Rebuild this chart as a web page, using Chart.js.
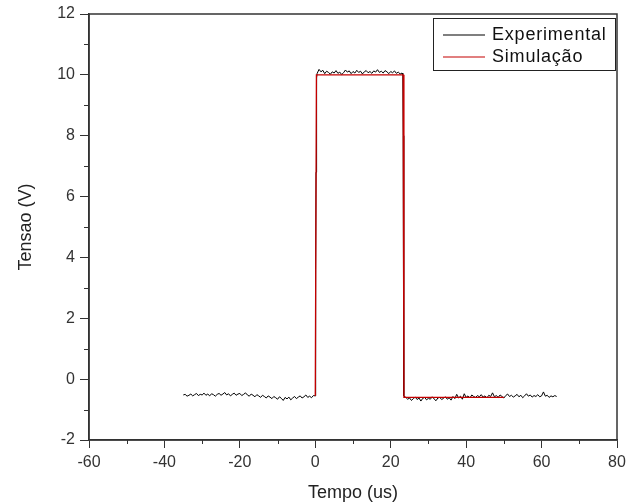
<!DOCTYPE html>
<html>
<head>
<meta charset="utf-8">
<script src="https://cdn.jsdelivr.net/npm/chart.js@4/dist/chart.umd.min.js"></script>
<style>
  html, body { margin: 0; padding: 0; background: #fff; }
  #wrap { width: 627px; height: 504px; }
</style>
</head>
<body>
<div id="wrap"><canvas id="chart" width="627" height="504"></canvas></div>
<script>
// measured pulse (us, V)
let expTime = [
  -35, -34.5, -34, -33.5, -33, -32.5, -32, -31.5, -31, -30.5,
  -30, -29.5, -29, -28.5, -28, -27.5, -27, -26.5, -26, -25.5,
  -25, -24.5, -24, -23.5, -23, -22.5, -22, -21.5, -21, -20.5,
  -20, -19.5, -19, -18.5, -18, -17.5, -17, -16.5, -16, -15.5,
  -15, -14.5, -14, -13.5, -13, -12.5, -12, -11.5, -11, -10.5,
  -10, -9.5, -9, -8.5, -8, -7.5, -7, -6.5, -6, -5.5,
  -5, -4.5, -4, -3.5, -3, -2.5, -2, -1.5, -1, -0.5,
  0, 0.1, 0.2, 0.3, 0.4,
  0.5, 1, 1.5, 2, 2.5, 3, 3.5, 4, 4.5, 5,
  5.5, 6, 6.5, 7, 7.5, 8, 8.5, 9, 9.5, 10,
  10.5, 11, 11.5, 12, 12.5, 13, 13.5, 14, 14.5, 15,
  15.5, 16, 16.5, 17, 17.5, 18, 18.5, 19, 19.5, 20,
  20.5, 21, 21.5, 22, 22.5, 23,
  23.2, 23.3, 23.4, 23.5,
  24, 24.5, 25, 25.5, 26, 26.5, 27, 27.5, 28, 28.5,
  29, 29.5, 30, 30.5, 31, 31.5, 32, 32.5, 33, 33.5,
  34, 34.5, 35, 35.5, 36, 36.5, 37, 37.5, 38, 38.5,
  39, 39.5, 40, 40.5, 41, 41.5, 42, 42.5, 43, 43.5,
  44, 44.5, 45, 45.5, 46, 46.5, 47, 47.5, 48, 48.5,
  49, 49.5, 50, 50.5, 51, 51.5, 52, 52.5, 53, 53.5,
  54, 54.5, 55, 55.5, 56, 56.5, 57, 57.5, 58, 58.5,
  59, 59.5, 60, 60.5, 61, 61.5, 62, 62.5, 63, 63.5,
  64
];
let expVolt = [
  -0.52, -0.50, -0.56, -0.53, -0.49, -0.55, -0.51, -0.47, -0.54, -0.50,
  -0.52, -0.46, -0.53, -0.49, -0.55, -0.48, -0.51, -0.56, -0.50, -0.47,
  -0.53, -0.49, -0.44, -0.52, -0.48, -0.55, -0.50, -0.46, -0.53, -0.49,
  -0.47, -0.54, -0.50, -0.45, -0.52, -0.56, -0.49, -0.53, -0.58, -0.51,
  -0.55, -0.60, -0.53, -0.57, -0.62, -0.55, -0.59, -0.64, -0.57, -0.61,
  -0.66, -0.58, -0.63, -0.70, -0.60, -0.65, -0.59, -0.68, -0.62, -0.57,
  -0.64, -0.59, -0.55, -0.62, -0.58, -0.52, -0.60, -0.56, -0.61, -0.54,
  -0.55, 3.6, 6.8, 9.1, 9.9,
  10.05, 10.18, 10.10, 10.15, 10.04, 10.12, 10.08, 10.02, 10.10, 10.06,
  10.14, 10.05, 10.09, 10.01, 10.07, 10.16, 10.09, 10.13, 10.04, 10.11,
  10.06, 10.15, 10.08, 10.12, 10.03, 10.10, 10.14, 10.07, 10.11, 10.05,
  10.13, 10.09, 10.17, 10.08, 10.12, 10.06, 10.14, 10.10, 10.04, 10.11,
  10.07, 10.13, 10.05, 10.09, 10.03, 10.06,
  10.0, 8.0, 1.2, -0.55,
  -0.60, -0.66, -0.62, -0.70, -0.64, -0.59, -0.67, -0.62, -0.72, -0.63,
  -0.60, -0.68, -0.63, -0.66, -0.58, -0.65, -0.71, -0.62, -0.60, -0.67,
  -0.63, -0.58, -0.66, -0.61, -0.69, -0.57, -0.64, -0.50, -0.62, -0.56,
  -0.66, -0.48, -0.60, -0.55, -0.62, -0.52, -0.57, -0.60, -0.54, -0.58,
  -0.51, -0.59, -0.55, -0.62, -0.53, -0.57, -0.45, -0.58, -0.54, -0.60,
  -0.52, -0.57, -0.62, -0.54, -0.49, -0.57, -0.53, -0.59, -0.55, -0.50,
  -0.58, -0.53, -0.61, -0.55, -0.48, -0.56, -0.52, -0.59, -0.54, -0.57,
  -0.51, -0.58, -0.55, -0.42, -0.56, -0.53, -0.60, -0.55, -0.58, -0.54,
  -0.57
];

// simulated pulse
let simTime = [0, 0.3, 23.3, 23.5, 50];
let simVolt = [-0.55, 10.0, 10.0, -0.6, -0.6];

let xTicks = [-60, -40, -20, 0, 20, 40, 60, 80];
let yTicks = [-2, 0, 2, 4, 6, 8, 10, 12];

const axisColor = '#333';
const textColor = '#333';
const fontFamily = '"Liberation Sans", Arial, sans-serif';

function toPoints(xs, ys) {
    return xs.map((x, i) => ({x: x, y: ys[i]}));
}

// full frame around the plot area
const frame = {
    id: 'frame',
    afterDatasetsDraw(chart) {
        const a = chart.chartArea;
        const ctx = chart.ctx;
        ctx.save();
        ctx.strokeStyle = axisColor;
        ctx.lineWidth = 1.5;
        ctx.strokeRect(a.left, a.top, a.right - a.left, a.bottom - a.top);
        ctx.restore();
    }
};

// minor ticks half-way between the labelled ones
const minorTicks = {
    id: 'minorTicks',
    afterDraw(chart) {
        const ctx = chart.ctx;
        const xs = chart.scales.x, ys = chart.scales.y;
        const a = chart.chartArea;
        ctx.save();
        ctx.strokeStyle = axisColor;
        ctx.lineWidth = 1;
        ctx.beginPath();
        for (let i = 0; i < xTicks.length - 1; i++) {
            let px = Math.round(xs.getPixelForValue((xTicks[i] + xTicks[i + 1]) / 2)) + 0.5;
            ctx.moveTo(px, a.bottom);
            ctx.lineTo(px, a.bottom + 4);
        }
        for (let i = 0; i < yTicks.length - 1; i++) {
            let py = Math.round(ys.getPixelForValue((yTicks[i] + yTicks[i + 1]) / 2)) + 0.5;
            ctx.moveTo(a.left, py);
            ctx.lineTo(a.left - 5, py);
        }
        ctx.stroke();
        ctx.restore();
    }
};

// legend box in the top right corner
const boxLegend = {
    id: 'boxLegend',
    afterDraw(chart) {
        const ctx = chart.ctx;
        const a = chart.chartArea;
        const x0 = a.right - 184, y0 = a.top + 4, w = 182, h = 52;
        ctx.save();
        ctx.fillStyle = '#fff';
        ctx.fillRect(x0, y0, w, h);
        ctx.strokeStyle = '#222';
        ctx.lineWidth = 1;
        ctx.strokeRect(x0 + 0.5, y0 + 0.5, w, h);
        ctx.font = '18px ' + fontFamily;
        ctx.letterSpacing = '0.8px';
        ctx.textBaseline = 'middle';
        chart.data.datasets.forEach((ds, i) => {
            let cy = y0 + 17 + i * 22;
            ctx.strokeStyle = ds.borderColor;
            ctx.lineWidth = 1.2;
            ctx.beginPath();
            ctx.moveTo(x0 + 10, cy);
            ctx.lineTo(x0 + 52, cy);
            ctx.stroke();
            ctx.fillStyle = '#111';
            ctx.fillText(ds.label, x0 + 59, cy);
        });
        ctx.restore();
    }
};

const ctx = document.getElementById('chart').getContext('2d');

let pulseChart = new Chart(ctx, {
    type: 'line',
    data: {
        datasets: [{
            label: 'Experimental',
            data: toPoints(expTime, expVolt),
            borderColor: '#000',
            borderWidth: 1,
            pointRadius: 0,
            tension: 0,
            order: 2
        }, {
            label: 'Simulação',
            data: toPoints(simTime, simVolt),
            borderColor: '#c40000',
            borderWidth: 1.3,
            pointRadius: 0,
            tension: 0,
            order: 1
        }]
    },
    options: {
        responsive: false,
        animation: false,
        devicePixelRatio: 1,
        layout: {padding: {top: 14, right: 10, left: 0, bottom: 0}},
        plugins: {
            legend: {display: false},
            tooltip: {enabled: false}
        },
        scales: {
            x: {
                type: 'linear',
                min: -60,
                max: 80,
                afterFit: (scale) => {
                    scale.height = 64;
                    scale.paddingLeft = 0;
                    scale.paddingRight = 0;
                },
                afterBuildTicks: (scale) => { scale.ticks = xTicks.map(v => ({value: v})); },
                ticks: {
                    color: textColor,
                    font: {size: 16, family: fontFamily},
                    padding: 5,
                    maxRotation: 0
                },
                grid: {drawOnChartArea: false, drawTicks: true, tickLength: 8, color: axisColor},
                border: {display: true, color: axisColor, width: 1.5},
                title: {
                    display: true,
                    text: 'Tempo (us)',
                    color: '#222',
                    font: {size: 18, family: fontFamily},
                    padding: {bottom: 0}
                }
            },
            y: {
                min: -2,
                max: 12,
                afterFit: (scale) => {
                    scale.width = 89;
                    scale.paddingTop = 0;
                    scale.paddingBottom = 0;
                },
                afterBuildTicks: (scale) => { scale.ticks = yTicks.map(v => ({value: v})); },
                ticks: {
                    color: textColor,
                    font: {size: 16, family: fontFamily},
                    padding: 5
                },
                grid: {drawOnChartArea: false, drawTicks: true, tickLength: 9, color: axisColor},
                border: {display: true, color: axisColor, width: 1.5},
                title: {
                    display: true,
                    text: 'Tensao (V)',
                    color: '#222',
                    font: {size: 18, family: fontFamily},
                    padding: {top: 15}
                }
            }
        }
    },
    plugins: [frame, minorTicks, boxLegend]
});
</script>
</body>
</html>
